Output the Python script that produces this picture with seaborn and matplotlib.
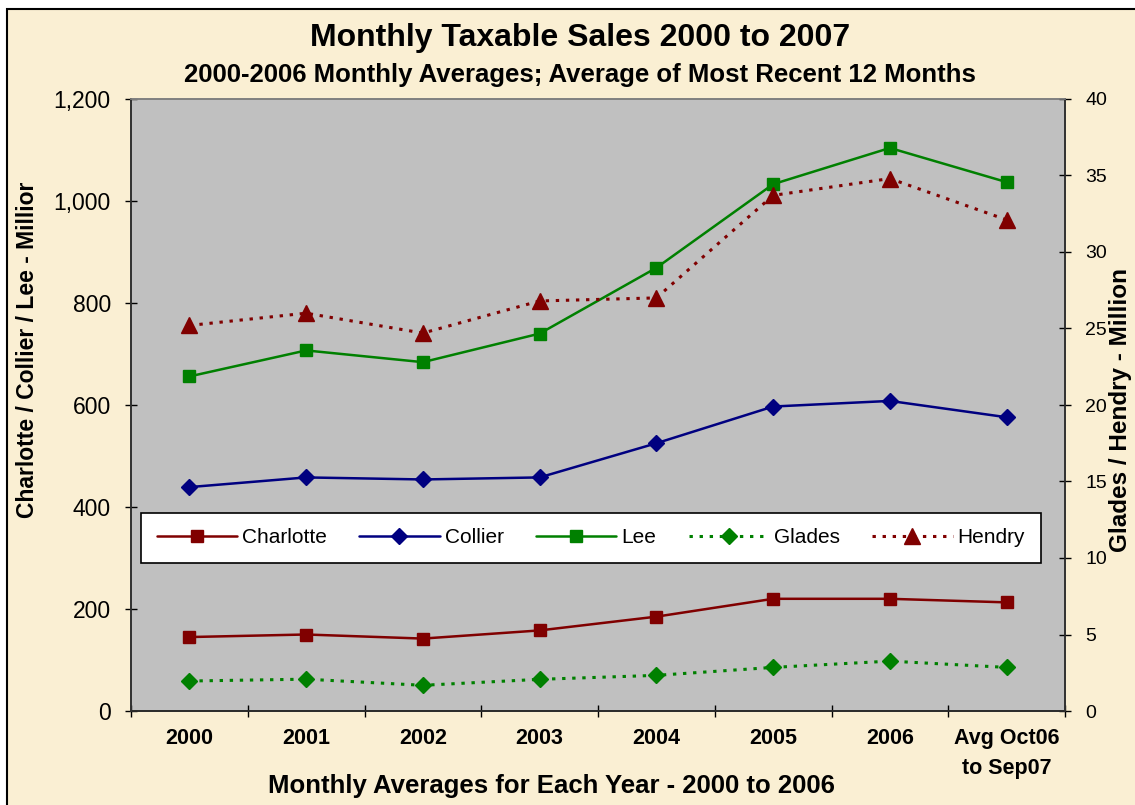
import numpy as np
import pandas as pd
import matplotlib
matplotlib.use("Agg")
import matplotlib.pyplot as plt
import seaborn as sns
from matplotlib.patches import Rectangle
from matplotlib.ticker import FixedLocator, FuncFormatter

# ---------------- data ----------------
categories = ["2000", "2001", "2002", "2003", "2004", "2005", "2006", "Avg Oct06\nto Sep07"]
charlotte = [145, 150, 142, 158, 185, 220, 220, 213]
collier = [439, 458, 454, 458, 525, 597, 608, 576]
lee = [656, 707, 684, 740, 869, 1033, 1104, 1037]
glades = [1.96, 2.08, 1.68, 2.07, 2.33, 2.85, 3.26, 2.85]
hendry = [25.2, 26.0, 24.7, 26.8, 27.0, 33.7, 34.8, 32.1]
left_ticks = [0, 200, 400, 600, 800, 1000, 1200]
right_ticks = [0, 5, 10, 15, 20, 25, 30, 35, 40]

title = "Monthly Taxable Sales 2000 to 2007"
subtitle = "2000-2006 Monthly Averages; Average of Most Recent 12 Months"
xlabel = "Monthly Averages for Each Year - 2000 to 2006"
ylabel_left = "Charlotte / Collier / Lee - Millior"
ylabel_right = "Glades / Hendry - Million"

# ---------------- style ----------------
sns.set_style("ticks")
plt.rcParams["font.family"] = ["Liberation Sans", "DejaVu Sans"]
plt.rcParams["text.color"] = "black"
plt.rcParams["axes.labelcolor"] = "black"
plt.rcParams["xtick.color"] = "black"
plt.rcParams["ytick.color"] = "black"

W, H = 1135, 805
fig = plt.figure(figsize=(W / 100, H / 100), dpi=100, facecolor="white")

# parchment background with border
bg = Rectangle((7 / W, -0.01), 1.0, 1 - 9 / H + 0.01, transform=fig.transFigure,
               facecolor="#FAEFD3", edgecolor="black", linewidth=1.5, zorder=-10)
fig.patches.append(bg)

ax = fig.add_axes([131 / W, 1 - 711 / H, (1065 - 131) / W, (711 - 99) / H])
ax.set_facecolor("#C0C0C0")
ax2 = ax.twinx()
ax2.patch.set_visible(False)

xpos = np.arange(len(categories))

df_left = pd.DataFrame({"x": xpos, "Charlotte": charlotte, "Collier": collier, "Lee": lee})
df_right = pd.DataFrame({"x": xpos, "Glades": glades, "Hendry": hendry})

dotted = (0, (1.1, 2.2))
specs_left = [
    ("Charlotte", "#800000", "s", 9, "-"),
    ("Collier", "#000080", "D", 8, "-"),
    ("Lee", "#008000", "s", 9, "-"),
]
specs_right = [
    ("Glades", "#008000", "D", 8, dotted),
    ("Hendry", "#800000", "^", 11, dotted),
]

for name, col, mk, ms, ls in specs_left:
    sns.lineplot(data=df_left, x="x", y=name, ax=ax, color=col, marker=mk,
                 markersize=ms, markeredgecolor=col, markeredgewidth=1,
                 linewidth=1.8, linestyle=ls, label=name, legend=False)
for name, col, mk, ms, ls in specs_right:
    sns.lineplot(data=df_right, x="x", y=name, ax=ax2, color=col, marker=mk,
                 markersize=ms, markeredgecolor=col, markeredgewidth=1,
                 linewidth=2.2, linestyle=ls, label=name, legend=False)

# axes limits and ticks
ax.set_xlim(-0.5, len(categories) - 0.5)
ax.set_ylim(left_ticks[0], left_ticks[-1])
ax2.set_ylim(right_ticks[0], right_ticks[-1])

ax.set_xticks(xpos)
ax.set_xticklabels(categories, fontsize=15.5, fontweight="bold", linespacing=1.6)
ax.xaxis.set_minor_locator(FixedLocator(np.arange(-0.5, len(categories) + 0.5, 1.0)))
ax.tick_params(axis="x", which="major", length=0, pad=12)
ax.tick_params(axis="x", which="minor", length=9, width=1, direction="inout", color="black")

ax.yaxis.set_major_locator(FixedLocator(left_ticks))
ax.yaxis.set_major_formatter(FuncFormatter(lambda v, p: f"{int(v):,}"))
ax.tick_params(axis="y", which="major", length=9, width=1, direction="inout",
               labelsize=16.5, pad=10, color="black")
ax2.yaxis.set_major_locator(FixedLocator(right_ticks))
ax2.tick_params(axis="y", which="major", length=9, width=1, direction="inout",
                labelsize=14, pad=10, color="black")

for a in (ax, ax2):
    for s in a.spines.values():
        s.set_color("#303030")
        s.set_linewidth(1.2)
    a.spines["top"].set_color("#808080")
ax.spines["bottom"].set_color("black")

ax.set_xlabel("")
ax.set_ylabel("")
ax2.set_ylabel("")

fig.text(580 / W, 1 - 38 / H, title, ha="center", va="center", fontsize=23, fontweight="bold")
fig.text(580 / W, 1 - 75 / H, subtitle, ha="center", va="center", fontsize=18.5, fontweight="bold")
fig.text(551 / W, 1 - 786 / H, xlabel, ha="center", va="center", fontsize=18.5, fontweight="bold")
fig.text(28 / W, 1 - 350 / H, ylabel_left, ha="center", va="center", rotation=90,
         fontsize=16.5, fontweight="bold")
fig.text(1120 / W, 1 - 410 / H, ylabel_right, ha="center", va="center", rotation=90,
         fontsize=17.5, fontweight="bold")

handles = ax.get_lines() + ax2.get_lines()
handles = [h for h in handles if h.get_label() in ("Charlotte", "Collier", "Lee", "Glades", "Hendry")]
leg = ax2.legend(handles=handles, labels=[h.get_label() for h in handles], ncol=5,
                 loc="center", bbox_to_anchor=(0.4925, 0.2827),
                 borderaxespad=0, frameon=True, fancybox=False,
                 facecolor="white", edgecolor="black", framealpha=1, fontsize=15,
                 handlelength=3.85, handletextpad=0.25, columnspacing=1.55,
                 borderpad=0.75, numpoints=1)
leg.get_frame().set_linewidth(1.2)
leg.set_zorder(20)

fig.savefig("out.png", dpi=100, facecolor=fig.get_facecolor())
